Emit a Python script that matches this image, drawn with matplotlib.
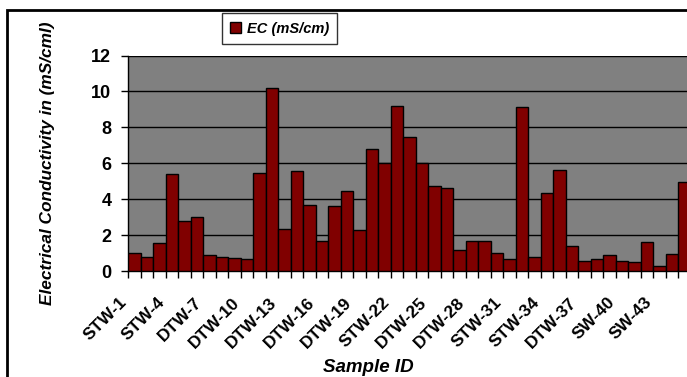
import numpy as np
import matplotlib.pyplot as plt
from matplotlib.patches import Rectangle
from matplotlib.transforms import ScaledTranslation

plt.rcParams['font.family'] = ['Liberation Sans', 'DejaVu Sans']

# sample ids, one bar each (label on every third)
samples = ['STW-1', 'STW-2', 'STW-3', 'STW-4', 'STW-5', 'STW-6', 'DTW-7', 'DTW-8', 'DTW-9',
           'DTW-10', 'DTW-11', 'DTW-12', 'DTW-13', 'DTW-14', 'DTW-15', 'DTW-16', 'DTW-17',
           'DTW-18', 'DTW-19', 'STW-20', 'STW-21', 'STW-22', 'DTW-23', 'DTW-24', 'DTW-25',
           'DTW-26', 'DTW-27', 'DTW-28', 'STW-29', 'STW-30', 'STW-31', 'STW-32', 'STW-33',
           'STW-34', 'DTW-35', 'DTW-36', 'DTW-37', 'SW-38', 'SW-39', 'SW-40', 'SW-41',
           'SW-42', 'SW-43', 'SW-44', 'SW-45']
ec = [1.02, 0.80, 1.54, 5.38, 2.81, 3.03, 0.87, 0.80, 0.73, 0.65,
      5.45, 10.21, 2.34, 5.58, 3.68, 1.69, 3.61, 4.47, 2.27, 6.77,
      6.03, 9.17, 7.44, 6.03, 4.76, 4.63, 1.19, 1.67, 1.67, 1.02,
      0.65, 9.12, 0.80, 4.33, 5.60, 1.40, 0.58, 0.65, 0.87, 0.58,
      0.52, 1.62, 0.28, 0.97, 4.93]
label_idx = list(range(0, len(samples), 3))
yticks = [0, 2, 4, 6, 8, 10, 12]

W, H = 687, 377
fig = plt.figure(figsize=(W / 100, H / 100), dpi=100)
ax = fig.add_axes([128 / W, (H - 271) / H, 562.5 / W, 215.5 / H])

x = np.arange(len(ec))
ax.bar(x, ec, width=1.0, color='#800000', edgecolor='black', linewidth=1.0,
       label='EC (mS/cm)', zorder=3)

ax.set_facecolor('#808080')
ax.set_xlim(-0.5, len(ec) - 0.5)
ax.set_ylim(0, 12)
ax.set_yticks(yticks)
ax.set_yticklabels([str(v) for v in yticks], fontsize=13, fontweight='bold')
ax.yaxis.grid(True, color='black', linewidth=1, zorder=0)
ax.set_axisbelow(True)

ax.set_xticks(label_idx)
ax.set_xticklabels([samples[i] for i in label_idx], rotation=45, ha='right',
                   va='center', rotation_mode='anchor', fontsize=12.5, fontweight='bold')
ax.set_xticks(np.arange(len(ec) + 1) - 0.5, minor=True)
ax.tick_params(axis='x', which='major', length=0, pad=21)
ax.tick_params(axis='x', which='minor', length=5, width=1, color='black')
ax.tick_params(axis='y', length=5, width=1, color='black', pad=7)

# nudge the slanted labels left (after tick_params, which resets transforms)
shift = ScaledTranslation(-7 / 72, 0, fig.dpi_scale_trans)
for lab in ax.get_xticklabels():
    lab.set_transform(lab.get_transform() + shift)

for s in ['top', 'right']:
    ax.spines[s].set_visible(False)
ax.spines['left'].set_linewidth(1)
ax.spines['bottom'].set_linewidth(1)

fig.text(48 / W, (H - 163) / H, 'Electrical Conductivity in (mS/cml)', rotation=90,
         ha='center', va='center', fontsize=12.4, fontweight='bold', style='italic')
fig.text(368 / W, 10 / H, 'Sample ID', ha='center', va='center',
         fontsize=13.5, fontweight='bold', style='italic')

leg = fig.legend(loc='center', bbox_to_anchor=(279.5 / W, (H - 28.5) / H),
                 prop={'size': 10.5, 'weight': 'bold', 'style': 'italic'},
                 handlelength=0.8, handleheight=0.8, handletextpad=0.4,
                 fancybox=False, borderpad=0.55)
leg.get_frame().set_edgecolor('black')
leg.get_frame().set_linewidth(1)

fig.add_artist(Rectangle((7 / W, -0.1), 1.2, (H - 10) / H + 0.1,
                         transform=fig.transFigure, fill=False, lw=2, color='black'))

fig.savefig('out.png', dpi=100)
